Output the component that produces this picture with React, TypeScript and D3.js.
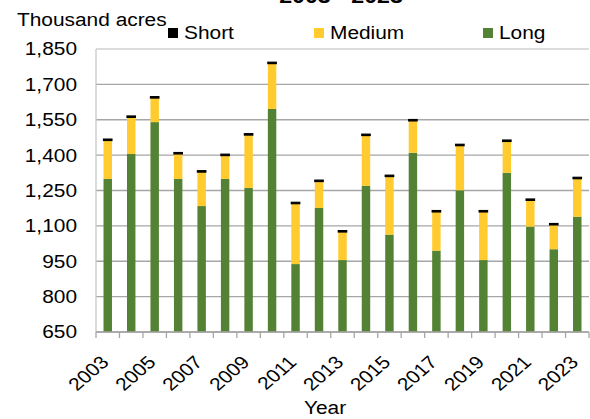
import React from "react";
import * as d3 from "d3";

const years = ["2003","2004","2005","2006","2007","2008","2009","2010","2011","2012","2013","2014","2015","2016","2017","2018","2019","2020","2021","2022","2023"];
const longVals = [1299,1405,1540,1299,1184,1299,1261,1596,938,1176,955,1270,1063,1410,995,1251,955,1325,1097,1001,1139];
const mediumVals = [163,155,102,106,144,99,224,192,256,112,119,213,246,135,164,189,204,133,111,103,161];
const shortVals = [6,6,6,6,6,6,6,6,6,6,6,6,6,6,6,6,6,6,6,6,6];
const yTicks = [650,800,950,1100,1250,1400,1550,1700,1850];
const xLabelYears = ["2003","2005","2007","2009","2011","2013","2015","2017","2019","2021","2023"];
const seriesNames = ["Short","Medium","Long"];

const W = 590, H = 419;
const L = 96, R = 589, T = 49, B = 332;
const FONT = "'Liberation Sans', Arial, sans-serif";
const SX = 1.16;
const colors: Record<string,string> = { Long: "#548235", Medium: "#FFCB2F", Short: "#000000" };

export default function App() {
  const rows = years.map((y, i) => ({ year: y, Long: longVals[i], Medium: mediumVals[i], Short: shortVals[i] }));
  const stack = d3.stack<any>().keys(["Long", "Medium", "Short"]);
  const series = stack(rows);
  const x = d3.scaleBand<string>().domain(years).range([L, R]).paddingInner(0.64).paddingOuter(0.32);
  const xs = d3.scaleBand<string>().domain(years).range([L, R]).padding(0);
  const y = d3.scaleLinear().domain([650, 1850]).range([B, T]);
  const fmt = d3.format(",");
  const step = xs.step();
  const yMin = y.domain()[0];

  const legendX: Record<string, number> = { Short: 168, Medium: 314, Long: 483 };

  return (
    <svg width={W} height={H} style={{ position: "absolute", left: 0, top: 0, background: "#fff" }} fontFamily={FONT}>
      <rect x={0} y={0} width={W} height={H} fill="#fff" />
      {/* title fragment */}
      <text transform={`translate(341,2.5) scale(${SX},1)`} textAnchor="middle" fontSize={20} fontWeight="bold" fill="#000">2003 - 2023</text>
      <text transform={`translate(17,26) scale(${SX},1)`} fontSize={18} fill="#000">Thousand acres</text>
      {/* legend */}
      {seriesNames.map((s) => (
        <g key={s}>
          <rect x={legendX[s]} y={28} width={10} height={10} fill={colors[s]} />
          <text transform={`translate(${legendX[s] + 16},39) scale(${SX},1)`} fontSize={18} fill="#000">{s}</text>
        </g>
      ))}
      {/* gridlines */}
      {yTicks.map((t) => (
        <line key={t} x1={L} x2={R} y1={y(t)} y2={y(t)} stroke={t === 1850 ? "#D0D0D0" : "#A6A6A6"} strokeWidth={1.3} />
      ))}
      {/* y labels */}
      {yTicks.map((t) => (
        <text key={"l" + t} transform={`translate(77,${y(t)}) scale(${SX},1)`} dy="0.36em" textAnchor="end" fontSize={18} fill="#000">{fmt(t)}</text>
      ))}
      {/* left axis line */}
      <line x1={L} x2={L} y1={T} y2={B} stroke="#C8C8C8" strokeWidth={1.3} />
      {/* bars */}
      {series.map((s) => (
        <g key={s.key}>
          {s.map((d, i) => {
            const y0 = y(Math.max(d[0], yMin)), y1 = y(Math.max(d[1], yMin));
            const isShort = s.key === "Short";
            return (
              <rect
                key={i}
                x={x(years[i])!}
                width={x.bandwidth()}
                y={y1}
                height={Math.max(0, y0 - y1)}
                fill={colors[s.key]}
                stroke={isShort ? "#000" : "none"}
                strokeWidth={isShort ? 1.2 : 0}
              />
            );
          })}
        </g>
      ))}
      {/* bottom axis */}
      <line x1={L} x2={R} y1={B} y2={B} stroke="#A6A6A6" strokeWidth={1.3} />
      {d3.range(years.length + 1).map((i) => (
        <line key={"t" + i} x1={L + i * step} x2={L + i * step} y1={B} y2={B + 6} stroke="#A6A6A6" strokeWidth={1.3} />
      ))}
      {xLabelYears.map((yr) => {
        const cx = xs(yr)! + step / 2;
        return (
          <text key={"x" + yr} transform={`translate(${cx - 3},359) scale(${SX},1) rotate(-45)`} dy="0.35em" textAnchor="end" fontSize={18} fill="#000">{yr}</text>
        );
      })}
      <text transform={`translate(325,414) scale(${SX},1)`} textAnchor="middle" fontSize={18} fill="#000">Year</text>
    </svg>
  );
}
